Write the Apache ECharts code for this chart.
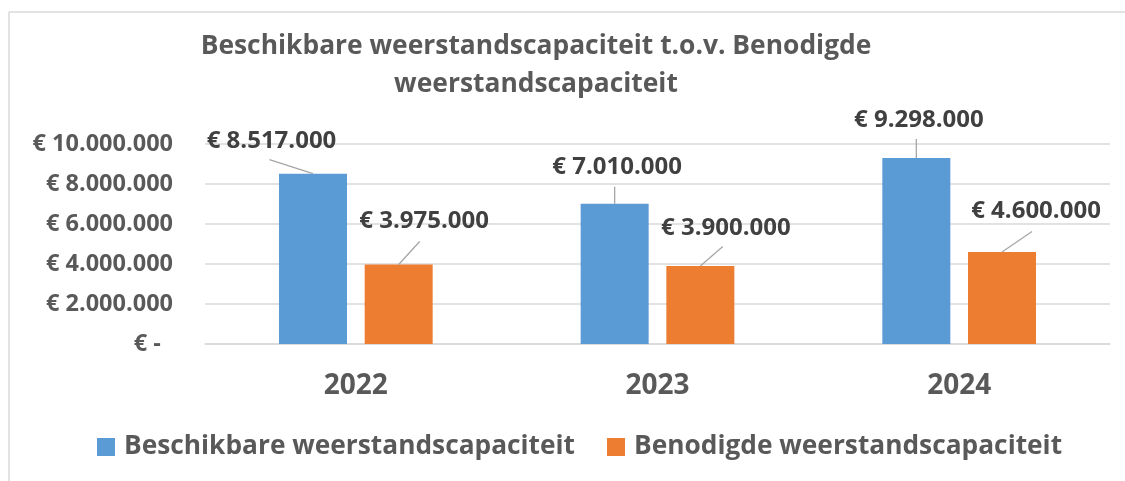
<!DOCTYPE html>
<html>
<head>
<meta charset="utf-8">
<script src="https://cdn.jsdelivr.net/npm/echarts@6/dist/echarts.min.js"></script>
<style>
html,body{margin:0;padding:0;background:#fff;}
#chart{width:1125px;height:481px;}
</style>
</head>
<body>
<div id="chart"></div>
<script>
const categories = ['2022', '2023', '2024'];
const beschikbaar = [8517000, 7010000, 9298000];
const benodigd = [3975000, 3900000, 4600000];
const seriesNames = ['Beschikbare weerstandscapaciteit', 'Benodigde weerstandscapaciteit'];
const titleText = 'Beschikbare weerstandscapaciteit t.o.v. Benodigde\nweerstandscapaciteit';

// label placement relative to the top centre of each bar (layout only, not data)
const labelOffset = [
  [[-41.5, -33], [2.5, -37], [2.5, -38]],
  [[25.5, -43], [25.5, -38], [34, -40.5]]
];
const leaderStart = [
  [[-43.5, -14], [0, -17], [0, -19]],
  [[21, -23], [22.5, -19.5], [30, -20.5]]
];

function euro(v) {
  if (v === 0) return '€ -  ';
  return '€ ' + String(Math.round(v)).replace(/\B(?=(\d{3})+(?!\d))/g, '.');
}

const FONT = "'Open Sans', sans-serif";
const BAR_W = 68;
const BAR_GAP = 0.26;
const BAR_SHIFT = (BAR_W + BAR_W * BAR_GAP) / 2;

const labelData = [];
beschikbaar.forEach((v, i) => labelData.push([i, v, 0]));
benodigd.forEach((v, i) => labelData.push([i, v, 1]));

const chart = echarts.init(document.getElementById('chart'), null, {renderer: 'canvas'});

chart.setOption({
  animation: false,
  backgroundColor: '#fff',
  textStyle: {fontFamily: FONT},
  title: {
    text: titleText,
    left: 531,
    textAlign: 'center',
    top: 22,
    textStyle: {fontFamily: FONT, fontWeight: 'bold', fontSize: 26.4, color: '#595959', lineHeight: 38}
  },
  legend: {
    left: 97,
    top: 434,
    padding: 0,
    icon: 'rect',
    itemWidth: 18,
    itemHeight: 18,
    itemGap: 32,
    data: seriesNames,
    textStyle: {fontFamily: FONT, fontWeight: 'bold', fontSize: 26.3, color: '#595959', padding: [0, 0, 0, 4]}
  },
  grid: {left: 205, right: 15, top: 144, bottom: 137, containLabel: false},
  xAxis: {
    type: 'category',
    data: categories,
    axisLine: {show: true, lineStyle: {color: '#d9d9d9', width: 1.5}},
    axisTick: {show: false},
    axisLabel: {margin: 28, fontFamily: FONT, fontWeight: 'bold', fontSize: 28, color: '#595959', lineHeight: 28}
  },
  yAxis: {
    type: 'value',
    min: 0,
    max: 10000000,
    interval: 2000000,
    axisLine: {show: false},
    axisTick: {show: false},
    splitLine: {lineStyle: {color: '#d9d9d9', width: 1.5}},
    axisLabel: {margin: 32, formatter: euro, fontFamily: FONT, fontWeight: 'bold', fontSize: 23.5, color: '#595959'}
  },
  series: [
    {
      name: seriesNames[0],
      type: 'bar',
      data: beschikbaar,
      barWidth: BAR_W,
      barGap: (BAR_GAP * 100) + '%',
      itemStyle: {color: '#5B9BD5'}
    },
    {
      name: seriesNames[1],
      type: 'bar',
      data: benodigd,
      barWidth: BAR_W,
      barGap: (BAR_GAP * 100) + '%',
      itemStyle: {color: '#ED7D31'}
    },
    {
      name: 'labels',
      type: 'custom',
      data: labelData,
      silent: true,
      z: 5,
      renderItem: (params, api) => {
        const i = api.value(0), v = api.value(1), s = api.value(2);
        const p = api.coord([i, v]);
        const bx = p[0] + (s === 0 ? -BAR_SHIFT : BAR_SHIFT);
        const by = p[1];
        const lo = labelOffset[s][i], ls = leaderStart[s][i];
        return {
          type: 'group',
          children: [
            {type: 'line', shape: {x1: bx + ls[0], y1: by + ls[1], x2: bx, y2: by},
             style: {stroke: '#a6a6a6', lineWidth: 1.3}},
            {type: 'text', x: bx + lo[0], y: by + lo[1],
             style: {text: euro(v), align: 'center', verticalAlign: 'middle',
                     font: "bold 24px 'Open Sans', sans-serif", fill: '#404040'}}
          ]
        };
      }
    }
  ],
  graphic: [
    {type: 'line', shape: {x1: 9, y1: 12, x2: 1125, y2: 12}, style: {stroke: '#d9d9d9', lineWidth: 1.5}, silent: true},
    {type: 'line', shape: {x1: 9, y1: 12, x2: 9, y2: 481}, style: {stroke: '#d9d9d9', lineWidth: 1.5}, silent: true}
  ]
});
</script>
</body>
</html>
